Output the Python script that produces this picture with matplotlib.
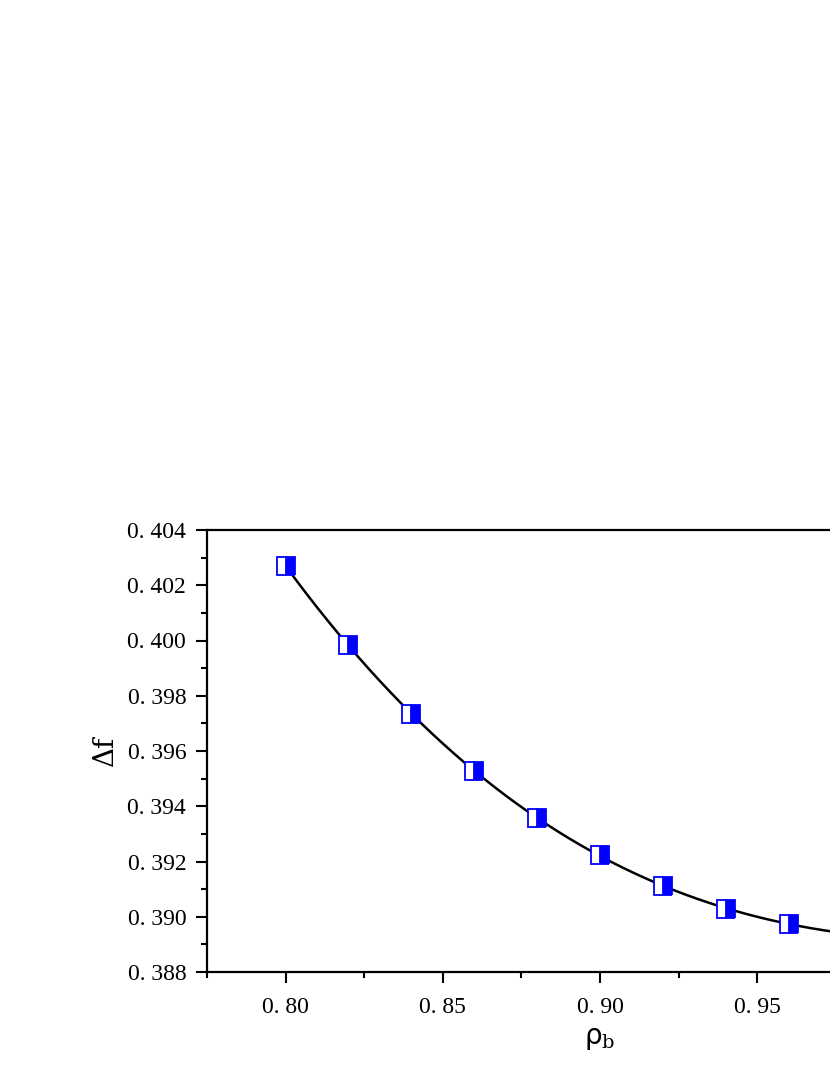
import numpy as np
import matplotlib
matplotlib.use('Agg')
import matplotlib.pyplot as plt
from matplotlib.ticker import MultipleLocator, FixedFormatter, FixedLocator

# data
rho_b = [0.80, 0.82, 0.84, 0.86, 0.88, 0.90, 0.92, 0.94, 0.96]
delta_f = [0.4027, 0.39982, 0.39734, 0.39528, 0.39358, 0.39222, 0.39112, 0.39029, 0.38975]

x_ticks = [0.80, 0.85, 0.90, 0.95]
x_ticklabels = ['0. 80', '0. 85', '0. 90', '0. 95']
y_ticks = [0.388, 0.390, 0.392, 0.394, 0.396, 0.398, 0.400, 0.402, 0.404]
y_ticklabels = ['0. 388', '0. 390', '0. 392', '0. 394', '0. 396', '0. 398', '0. 400', '0. 402', '0. 404']

plt.rcParams['font.family'] = ['Liberation Serif', 'DejaVu Serif']
plt.rcParams['mathtext.fontset'] = 'dejavuserif'

fig = plt.figure(figsize=(8.3, 10.75), dpi=100)
# axes runs past the right edge, as in the cropped original
ax = fig.add_axes([207 / 830, 1 - 972 / 1075, 786 / 830, 442 / 1075])

# smooth fitted curve through the points
coef = np.polyfit(rho_b, delta_f, 3)
xs = np.linspace(0.80, 1.00, 300)
ax.plot(xs, np.polyval(coef, xs), color='black', lw=1.8, zorder=2)
ax.plot(rho_b, delta_f, linestyle='none', marker='s', markersize=12.5,
        fillstyle='right', markerfacecolor='#0000ff', markerfacecoloralt='white',
        markeredgecolor='#0000ff', markeredgewidth=1.3, zorder=3)

ax.set_xlim(0.775, 1.025)
ax.set_ylim(0.388, 0.404)
ax.xaxis.set_major_locator(FixedLocator(x_ticks))
ax.xaxis.set_major_formatter(FixedFormatter(x_ticklabels))
ax.xaxis.set_minor_locator(FixedLocator([0.775, 0.825, 0.875, 0.925, 0.975]))
ax.yaxis.set_major_locator(FixedLocator(y_ticks))
ax.yaxis.set_major_formatter(FixedFormatter(y_ticklabels))
ax.yaxis.set_minor_locator(MultipleLocator(0.001))

ax.tick_params(which='major', direction='out', length=8, width=1.5, labelsize=17, pad=7)
ax.tick_params(which='minor', direction='out', length=4, width=1.5)
ax.tick_params(axis='x', which='major', pad=10)
for s in ax.spines.values():
    s.set_linewidth(1.6)

ax.set_xlabel(r'ρ$_\mathrm{b}$', fontsize=20, labelpad=4, family=['DejaVu Sans'])
ax.set_ylabel('Δf', fontsize=20, labelpad=6, family=['DejaVu Serif'])

fig.savefig('out.png', dpi=100)
